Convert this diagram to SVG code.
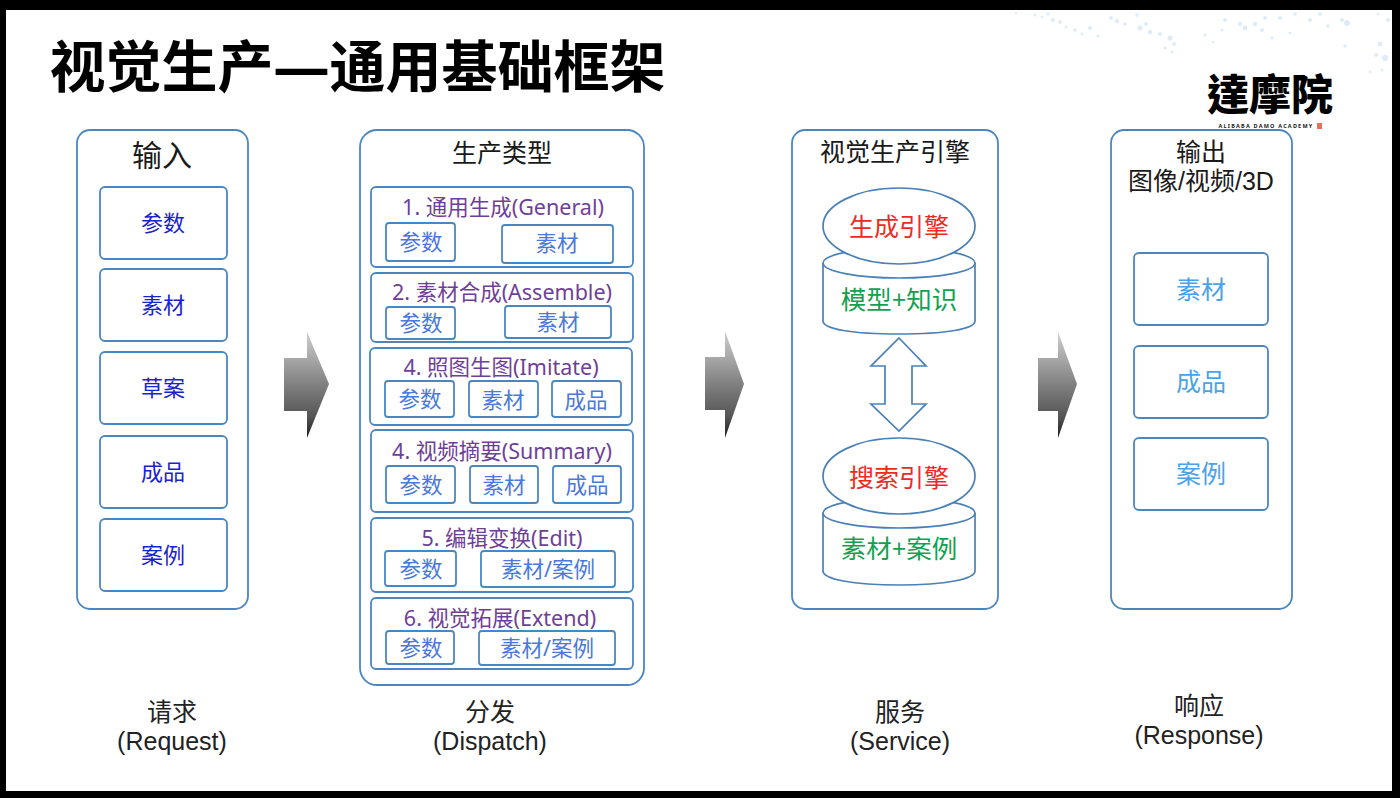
<svg xmlns="http://www.w3.org/2000/svg" width="1400" height="798" viewBox="0 0 1400 798">
<style>
text{font-family:"Noto Sans","Noto Sans CJK SC",sans-serif;text-anchor:middle}
.panel,.row,.box{fill:#fff;stroke:#4a87c2;stroke-width:1.8}
.head{font-family:"Liberation Sans","Noto Sans CJK SC",sans-serif;font-size:25px;fill:#1a1a1a}
.foot{font-family:"Liberation Sans","Noto Sans CJK SC",sans-serif;font-size:25px;fill:#222}
.in{font-size:22px;fill:#1a22d0}
.sub{font-size:21.5px;fill:#4a78dc}
.type{font-size:21.5px;fill:#6f3f98}
.out{font-size:25px;fill:#4aa3e8}
.eng{font-size:25px;fill:#ee2a1e}
.kb{font-size:25.5px;fill:#12a150}
.shape{fill:#fff;stroke:#4a80b8;stroke-width:1.7}
.big{fill:url(#metal)}
.dot{fill:#dcecf8}
</style>
<defs>
<linearGradient id="metal" x1="0" y1="0" x2="0" y2="1">
<stop offset="0" stop-color="#cfcfcf"/>
<stop offset="0.5" stop-color="#808080"/>
<stop offset="0.8" stop-color="#555"/>
<stop offset="1" stop-color="#1c1c1c"/>
</linearGradient>
</defs>
<rect width="1400" height="798" fill="#000"/>
<rect x="6" y="10" width="1386" height="781" fill="#fff"/>
<!-- speckle band along the top right -->
<g id="speckle" class="dot">
<circle cx="1016" cy="13" r="1.2"/><circle cx="1035" cy="15" r="1.5"/><circle cx="1042" cy="17" r="1.2"/><circle cx="1048" cy="14" r="1.5"/><circle cx="1053" cy="20" r="2"/><circle cx="1060" cy="22" r="2"/><circle cx="1066" cy="27" r="1.6"/><circle cx="1075" cy="30" r="1.8"/><circle cx="1082" cy="34" r="1.5"/><circle cx="1090" cy="28" r="2"/><circle cx="1098" cy="36" r="1.6"/><circle cx="1111" cy="18" r="2"/><circle cx="1117" cy="21" r="2.2"/><circle cx="1125" cy="24" r="1.8"/><circle cx="1137" cy="15" r="1.8"/><circle cx="1140" cy="28" r="2.5"/><circle cx="1146" cy="24" r="2"/><circle cx="1150" cy="32" r="2.2"/><circle cx="1160" cy="34" r="2"/><circle cx="1170" cy="38" r="2.6"/><circle cx="1174" cy="44" r="2"/><circle cx="1165" cy="48" r="1.6"/><circle cx="1172" cy="52" r="1.6"/><circle cx="1205" cy="35" r="1.6"/><circle cx="1213" cy="42" r="1.2"/><circle cx="1222" cy="30" r="1.6"/><circle cx="1225" cy="20" r="2"/><circle cx="1240" cy="24" r="2"/><circle cx="1245" cy="28" r="2.4"/><circle cx="1255" cy="24" r="2.2"/><circle cx="1262" cy="30" r="2"/><circle cx="1265" cy="18" r="2"/><circle cx="1272" cy="38" r="1.6"/><circle cx="1280" cy="18" r="2"/><circle cx="1290" cy="33" r="1.6"/><circle cx="1295" cy="14" r="1.8"/><circle cx="1310" cy="20" r="2"/><circle cx="1320" cy="14" r="2"/><circle cx="1328" cy="26" r="1.8"/><circle cx="1347" cy="23" r="3"/><circle cx="1342" cy="20" r="2"/><circle cx="1380" cy="44" r="2.4"/><circle cx="1385" cy="58" r="3"/><circle cx="1376" cy="55" r="2"/><circle cx="1388" cy="20" r="2"/><circle cx="1345" cy="46" r="1.8"/><circle cx="1378" cy="14" r="1.5"/><circle cx="1370" cy="72" r="1.4"/><circle cx="1382" cy="70" r="1.4"/>
</g>
<text x="357.500" y="87" style="font-size:56px;font-weight:700;fill:#000">视觉生产—通用基础框架</text>
<g id="logo">
<text x="1270" y="110" style="font-size:42px;font-weight:900;fill:#000;font-family:'Noto Sans CJK TC',sans-serif">達摩院</text>
<text x="1266" y="128" style="font-size:5.500px;font-weight:700;letter-spacing:1.200px;fill:#222">ALIBABA DAMO ACADEMY</text>
<rect x="1317" y="123" width="5" height="6" fill="#e8705a"/>
</g>
<g id="input">
<rect class="panel" x="77" y="130" width="171" height="479" rx="13"/>
<text class="head" x="162" y="166" style="font-size:30px">输入</text>
<g id="in-1"><rect class="box" x="100" y="187" width="127" height="72" rx="5"/><text class="in" x="163" y="231">参数</text></g>
<g id="in-2"><rect class="box" x="100" y="269" width="127" height="72" rx="5"/><text class="in" x="163" y="313">素材</text></g>
<g id="in-3"><rect class="box" x="100" y="352" width="127" height="72" rx="5"/><text class="in" x="163" y="396">草案</text></g>
<g id="in-4"><rect class="box" x="100" y="436" width="127" height="72" rx="5"/><text class="in" x="163" y="480">成品</text></g>
<g id="in-5"><rect class="box" x="100" y="519" width="127" height="72" rx="5"/><text class="in" x="163" y="563">案例</text></g>
</g>
<g id="dispatch">
<rect class="panel" x="360" y="130" width="284" height="555" rx="17"/>
<text class="head" x="502" y="162">生产类型</text>
<g id="type-1"><rect class="row" x="371" y="187" width="262" height="80" rx="5"/><text class="type" x="503" y="215">1. 通用生成(General)</text>
<rect class="box" x="386" y="223" width="69" height="38" rx="3"/><text class="sub" x="421" y="250">参数</text>
<rect class="box" x="502" y="225" width="111" height="38" rx="3"/><text class="sub" x="557" y="251">素材</text></g>
<g id="type-2"><rect class="row" x="371" y="273" width="262" height="69" rx="5"/><text class="type" x="502" y="300">2. 素材合成(Assemble)</text>
<rect class="box" x="386" y="307" width="69" height="32" rx="3"/><text class="sub" x="421" y="331">参数</text>
<rect class="box" x="505" y="306" width="106" height="32" rx="3"/><text class="sub" x="558" y="330">素材</text></g>
<g id="type-3"><rect class="row" x="370" y="348" width="262" height="77" rx="5"/><text class="type" x="501" y="375">4. 照图生图(Imitate)</text>
<rect class="box" x="385" y="381" width="69" height="36" rx="3"/><text class="sub" x="420" y="407">参数</text>
<rect class="box" x="469" y="381" width="69" height="36" rx="3"/><text class="sub" x="503" y="408">素材</text>
<rect class="box" x="552" y="381" width="69" height="36" rx="3"/><text class="sub" x="586" y="408">成品</text></g>
<g id="type-4"><rect class="row" x="371" y="430" width="262" height="82" rx="5"/><text class="type" x="502" y="459">4. 视频摘要(Summary)</text>
<rect class="box" x="386" y="466" width="69" height="37" rx="3"/><text class="sub" x="421" y="493">参数</text>
<rect class="box" x="470" y="466" width="68" height="37" rx="3"/><text class="sub" x="504" y="493">素材</text>
<rect class="box" x="553" y="466" width="68" height="37" rx="3"/><text class="sub" x="587" y="493">成品</text></g>
<g id="type-5"><rect class="row" x="371" y="518" width="262" height="74" rx="5"/><text class="type" x="502" y="546">5. 编辑变换(Edit)</text>
<rect class="box" x="385" y="551" width="71" height="35" rx="3"/><text class="sub" x="421" y="577">参数</text>
<rect class="box" x="481" y="551" width="134" height="36" rx="3"/><text class="sub" x="548" y="577">素材/案例</text></g>
<g id="type-6"><rect class="row" x="371" y="598" width="262" height="71" rx="5"/><text class="type" x="500" y="626">6. 视觉拓展(Extend)</text>
<rect class="box" x="386" y="631" width="68" height="33" rx="3"/><text class="sub" x="421" y="656">参数</text>
<rect class="box" x="479" y="631" width="136" height="34" rx="3"/><text class="sub" x="547" y="656">素材/案例</text></g>
</g>
<g id="engine">
<rect class="panel" x="792" y="130" width="206" height="479" rx="13"/>
<text class="head" x="895" y="161">视觉生产引擎</text>
<g id="model-store"><path class="shape" d="M823 263V321C823 329 852 334 899 334S975 329 975 321V263"/><ellipse class="shape" cx="899" cy="263" rx="76" ry="15"/><text class="kb" x="899" y="309">模型+知识</text></g>
<g id="gen-engine"><ellipse class="shape" cx="899" cy="226" rx="76" ry="38"/><text class="eng" x="899" y="236">生成引擎</text></g>
<g id="search-store"><path class="shape" d="M823 513V571C823 579 852 585 899 585S975 579 975 571V513"/><ellipse class="shape" cx="899" cy="513" rx="76" ry="15"/><text class="kb" x="899" y="558">素材+案例</text></g>
<g id="search-engine"><ellipse class="shape" cx="899" cy="476" rx="76" ry="38"/><text class="eng" x="899" y="487">搜索引擎</text></g>
</g>
<g id="output">
<rect class="panel" x="1111" y="130" width="181" height="479" rx="13"/>
<text class="head" x="1201" y="161">输出</text>
<text class="head" x="1201" y="190">图像/视频/3D</text>
<g id="out-1"><rect class="box" x="1134" y="253" width="134" height="72" rx="5"/><text class="out" x="1201" y="299">素材</text></g>
<g id="out-2"><rect class="box" x="1134" y="346" width="134" height="72" rx="5"/><text class="out" x="1201" y="391">成品</text></g>
<g id="out-3"><rect class="box" x="1134" y="438" width="134" height="72" rx="5"/><text class="out" x="1201" y="483">案例</text></g>
</g>
<g id="connectors">
<path class="big" d="M284 358H307V332L329 384L307 438V411H284Z"/>
<path class="big" d="M705 357H725V331L744 384L725 438V410H705Z"/>
<path class="big" d="M1038 358H1058V332L1077 384L1058 438V411H1038Z"/>
<path class="shape" d="M899 338L926 366H912V404H926L899 431L871 404H885V366H871Z"/>
</g>
<g id="captions">
<text class="foot" x="172" y="721">请求</text><text class="foot" x="172" y="750">(Request)</text>
<text class="foot" x="490" y="721">分发</text><text class="foot" x="490" y="750">(Dispatch)</text>
<text class="foot" x="900" y="721">服务</text><text class="foot" x="900" y="750">(Service)</text>
<text class="foot" x="1199" y="715">响应</text><text class="foot" x="1199" y="744">(Response)</text>
</g>
</svg>
